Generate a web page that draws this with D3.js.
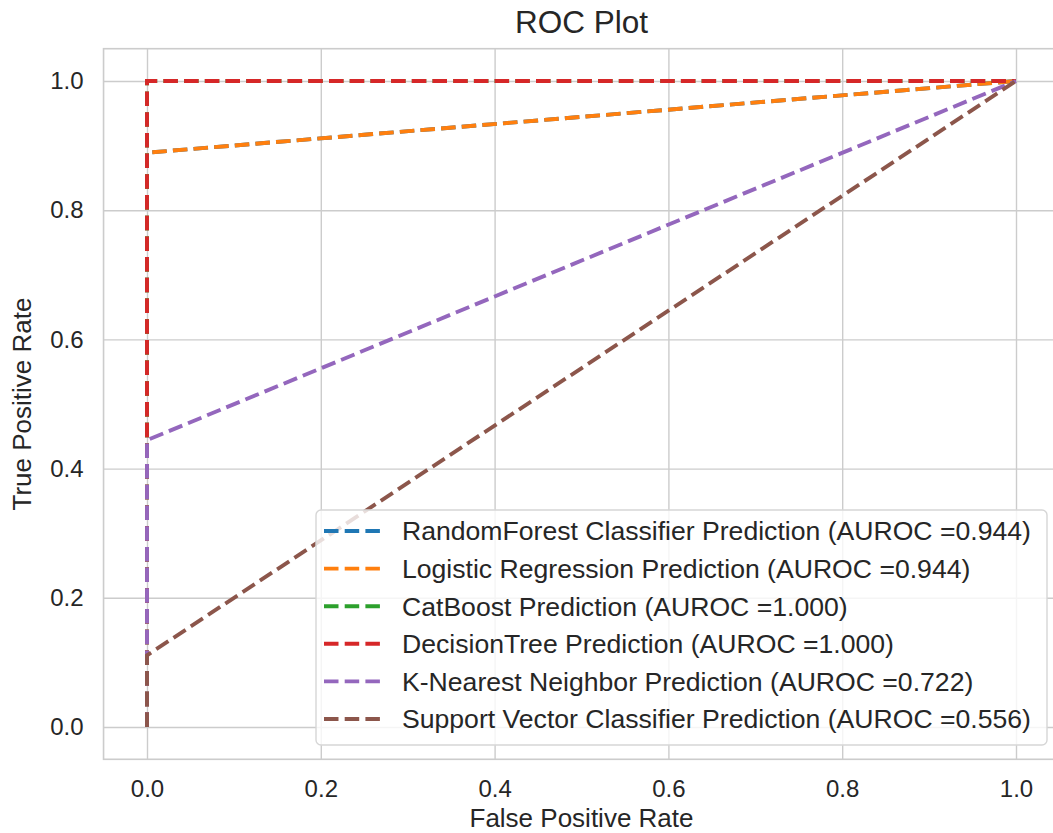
<!DOCTYPE html>
<html>
<head>
<meta charset="utf-8">
<script src="https://d3js.org/d3.v7.min.js"></script>
<style>
    body { margin: 0; background: #fff; }
    svg { display: block; font-family: "Liberation Sans", Arial, sans-serif; }
    .grid line { stroke: #cccccc; stroke-width: 1.4px; }
    .grid path { display: none; }
    .tick text { fill: #262626; font-size: 24px; }
</style>
</head>
<body>
<svg id="chart" width="1053" height="833"></svg>
<script>
    // ROC curves
    var models = ["RandomForest Classifier", "Logistic Regression", "CatBoost",
                  "DecisionTree", "K-Nearest Neighbor", "Support Vector Classifier"];
    var auroc = ["0.944", "0.944", "1.000", "1.000", "0.722", "0.556"];
    var fprs = [[0, 0, 1], [0, 0, 1], [0, 0, 1], [0, 0, 1], [0, 0, 1], [0, 0, 1]];
    var tprs = [[0, 0.889, 1], [0, 0.889, 1], [0, 1, 1], [0, 1, 1], [0, 0.444, 1], [0, 0.111, 1]];
    var colors = ["#1f77b4", "#ff7f0e", "#2ca02c", "#d62728", "#9467bd", "#8c564b"];
    var ticks = [0, 0.2, 0.4, 0.6, 0.8, 1.0];

    var svg = d3.select("#chart");

    var x = d3.scaleLinear().domain([0, 1]).range([147, 1016]);
    var y = d3.scaleLinear().domain([0, 1]).range([727, 81]);
    // note: "top" is taken by window.top, so use other names
    var axL = x(-0.05), axR = x(1.05), axT = y(1.05), axB = y(-0.05);

    // grid
    svg.append("g")
        .attr("class", "grid")
        .attr("transform", "translate(0," + axB + ")")
        .call(d3.axisBottom(x).tickValues(ticks).tickSize(-(axB - axT)).tickPadding(21)
            .tickFormat(d3.format(".1f")));

    svg.append("g")
        .attr("class", "grid")
        .attr("transform", "translate(" + axL + ",0)")
        .call(d3.axisLeft(y).tickValues(ticks).tickSize(-(axR - axL)).tickPadding(20)
            .tickFormat(d3.format(".1f")));

    // spines
    svg.append("rect")
        .attr("x", axL).attr("y", axT)
        .attr("width", axR - axL).attr("height", axB - axT)
        .attr("fill", "none").attr("stroke", "#cccccc").attr("stroke-width", 1.6);

    // curves
    var line = d3.line()
        .x(function (d) { return x(d[0]); })
        .y(function (d) { return y(d[1]); });

    models.forEach(function (m, i) {
        var pts = fprs[i].map(function (f, j) { return [f, tprs[i][j]]; });
        svg.append("path")
            .datum(pts)
            .attr("d", line)
            .attr("fill", "none")
            .attr("stroke", colors[i])
            .attr("stroke-width", 3.9)
            .attr("stroke-dasharray", "14.5,6.2");
    });

    // legend
    var lg = svg.append("g");
    lg.append("rect")
        .attr("x", 316).attr("y", 510).attr("width", 731).attr("height", 235)
        .attr("rx", 5)
        .attr("fill", "#fff").attr("fill-opacity", 0.8)
        .attr("stroke", "#d6d6d6").attr("stroke-width", 1.4);

    models.forEach(function (m, i) {
        var cy = 531 + i * 37.6;
        lg.append("line")
            .attr("x1", 324).attr("x2", 385)
            .attr("y1", cy).attr("y2", cy)
            .attr("stroke", colors[i]).attr("stroke-width", 3.9)
            .attr("stroke-dasharray", "14.5,6.2");
        lg.append("text")
            .attr("x", 402).attr("y", cy).attr("dy", "0.35em")
            .attr("fill", "#262626").attr("font-size", "26.6px")
            .text(m + " Prediction (AUROC =" + auroc[i] + ")");
    });

    // titles
    svg.append("text")
        .attr("x", (axL + axR) / 2).attr("y", 33)
        .attr("text-anchor", "middle").attr("fill", "#262626").attr("font-size", "31.5px")
        .text("ROC Plot");

    svg.append("text")
        .attr("x", (axL + axR) / 2).attr("y", 827)
        .attr("text-anchor", "middle").attr("fill", "#262626").attr("font-size", "26px")
        .text("False Positive Rate");

    svg.append("text")
        .attr("transform", "translate(31," + (axT + axB) / 2 + ") rotate(-90)")
        .attr("text-anchor", "middle").attr("fill", "#262626").attr("font-size", "26px")
        .text("True Positive Rate");
</script>
</body>
</html>
